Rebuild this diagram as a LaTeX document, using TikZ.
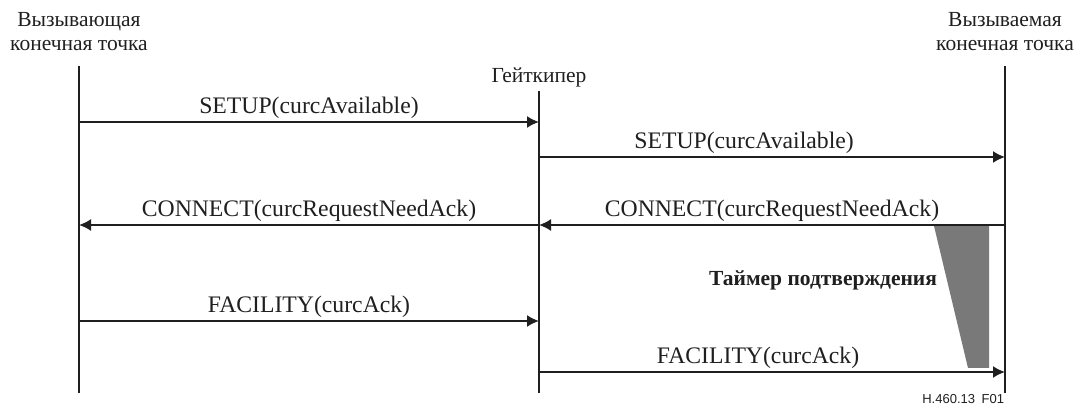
\documentclass[tikz,border=0pt]{standalone}
\usepackage{fontspec}
\setmainfont{Liberation Serif}
\newfontfamily\figsans{Liberation Sans}
\usetikzlibrary{arrows.meta}

\begin{document}
\begin{tikzpicture}[x=1pt,y=-1pt,line width=2pt,color={black!88},
                    msg/.style={->,>={Latex[length=12pt,width=12pt]},line width=1.7pt},
                    head/.style={align=center,inner sep=0pt,font=\fontsize{21.5}{24}\selectfont},
                    lbl/.style={above=3pt,inner sep=0pt,font=\fontsize{23.7}{27}\selectfont}]
                    \useasboundingbox (0,0) rectangle (1074,411);
                    % heads
                    \node[head] (caller) at (79,32) {Вызывающая\\конечная точка};
                    \node[head] (gk) at (539,77) {Гейткипер};
                    \node[head] (callee) at (1005,32) {Вызываемая\\конечная точка};
                    % lifelines
                    \coordinate (a0) at (79,66);   \coordinate (a1) at (79,393);
                    \coordinate (g0) at (539,91);  \coordinate (g1) at (539,393);
                    \coordinate (b0) at (1005,66); \coordinate (b1) at (1005,393);
                    \draw (a0) -- (a1);
                    \draw (g0) -- (g1);
                    \draw (b0) -- (b1);
                    % timer
                    \coordinate (t0) at (934,226); \coordinate (t1) at (989,226);
                    \coordinate (t2) at (989,368); \coordinate (t3) at (968,368);
                    \fill[gray!95!black] (t0) -- (t1) -- (t2) -- (t3) -- cycle;
                    \node[anchor=east,inner sep=0pt,font=\fontsize{21.5}{24}\selectfont\bfseries] (timer) at (938,280) {Таймер подтверждения};
                    % messages
                    \draw[msg] (a0 |- 0,122) -- (g0 |- 0,122) node[lbl,midway] (s1) {SETUP(curcAvailable)};
                    \draw[msg] (g0 |- 0,157) -- (b0 |- 0,157) node[lbl,pos=0.44] (s2) {SETUP(curcAvailable)};
                    \draw[msg] (b0 |- 0,225) -- (g0 |- 0,225) node[lbl,midway] (c2) {CONNECT(curcRequestNeedAck)};
                    \draw[msg] (g0 |- 0,225) -- (a0 |- 0,225) node[lbl,midway] (c1) {CONNECT(curcRequestNeedAck)};
                    \draw[msg] (a0 |- 0,321) -- (g0 |- 0,321) node[lbl,midway] (f1) {FACILITY(curcAck)};
                    \draw[msg] (g0 |- 0,372) -- (b0 |- 0,372) node[lbl,pos=0.47] (f2) {FACILITY(curcAck)};
                    \node[anchor=east,inner sep=0pt,font=\figsans\fontsize{13}{15}\selectfont] (fig) at (1005,399) {H.460.13\enspace F01};
                \end{tikzpicture}
\end{document}
